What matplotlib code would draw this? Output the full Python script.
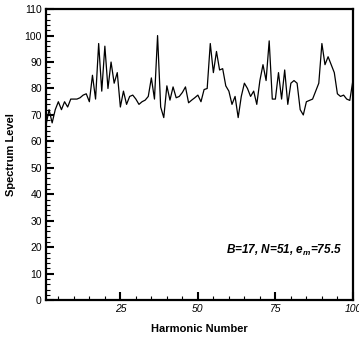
import numpy as np
import matplotlib
matplotlib.use("Agg")
import matplotlib.pyplot as plt
from matplotlib.ticker import MultipleLocator

plt.rcParams['font.family'] = ['Liberation Sans', 'DejaVu Sans']
plt.rcParams['mathtext.fontset'] = 'custom'
plt.rcParams['mathtext.it'] = 'Liberation Sans:bold:italic'
plt.rcParams['mathtext.rm'] = 'Liberation Sans:bold:italic'

# spectrum level for harmonics 1..100
harmonic = np.arange(1, 101)
level = [
    66, 72, 67, 72, 75, 72, 75, 73, 76, 76,
    76, 76.5, 77.5, 78, 75, 85, 76, 97, 79, 96,
    80, 90, 82, 86, 73, 79, 74, 77, 77.5, 76,
    74, 75, 75.6, 77, 84, 76, 100, 73, 69, 81,
    75.6, 80.6, 76.5, 77, 78.5, 80.6, 74.6, 75.6, 76.5, 77.5,
    75, 79.6, 80, 97, 86, 94, 87, 87.5, 81, 79,
    74, 77, 69, 77, 82, 80, 77, 79, 74, 83,
    89, 83, 98, 76, 76, 86, 76, 87, 74, 82,
    83, 82, 72, 70, 75, 75.5, 76, 79, 82, 97,
    89, 92, 89, 86, 78, 77, 77.5, 76, 75.5, 83,
]
note = r'B=17, N=51, $e_m$=75.5'

fig = plt.figure(figsize=(3.59, 3.38), dpi=100)
ax = fig.add_axes([0.128, 0.112, 0.855, 0.861])

ax.plot(harmonic, level, color='black', linewidth=0.9)

ax.set_xlim(1, 100)
ax.set_ylim(0, 110)
ax.xaxis.set_major_locator(MultipleLocator(25))
ax.xaxis.set_minor_locator(MultipleLocator(5))
ax.yaxis.set_major_locator(MultipleLocator(10))
ax.yaxis.set_minor_locator(MultipleLocator(2))
ax.tick_params(which='both', direction='in', top=False, right=False)
ax.tick_params(which='major', length=6, width=1.5, labelsize=7.5, pad=3)
ax.tick_params(which='minor', length=3, width=0.8)
for lab in ax.get_xticklabels():
    lab.set_style('italic')
for s in ax.spines.values():
    s.set_linewidth(1.6)

ax.set_xlabel('Harmonic Number', fontsize=8, fontweight='bold', labelpad=7)
ax.set_ylabel('Spectrum Level', fontsize=8, fontweight='bold', labelpad=6)

ax.text(0.965, 0.172, note, transform=ax.transAxes, ha='right', va='center',
        fontsize=8.5, fontweight='bold', style='italic')

fig.savefig('out.png', dpi=100)
